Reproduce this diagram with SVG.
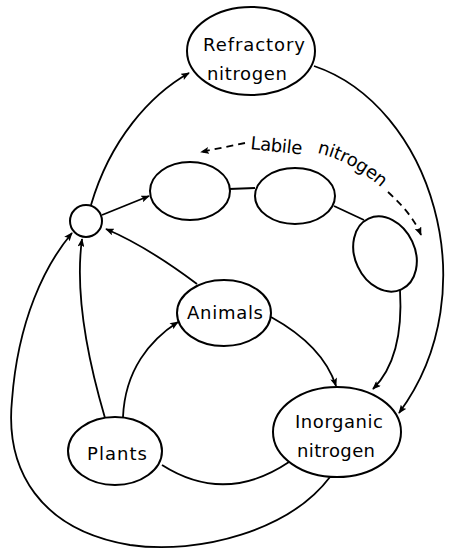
<svg xmlns="http://www.w3.org/2000/svg" width="460" height="551" viewBox="0 0 460 551">
<style>
.n{fill:#fff;stroke:#000;stroke-width:2}
.c{fill:none;stroke:#000;stroke-width:1.8}
.d{fill:none;stroke:#000;stroke-width:1.8;stroke-dasharray:7 5}
text{font-family:"DejaVu Sans","Liberation Sans",sans-serif;font-size:18px;fill:#000}
</style>
<defs>
<marker id="a" viewBox="0 0 10 8" refX="9" refY="4" markerWidth="9" markerHeight="7" orient="auto" markerUnits="userSpaceOnUse">
<path d="M0,0 L10,4 L0,8 L2,4 z" fill="#000"/>
</marker>
<path id="tp" d="M317,153 Q352,161 384,190"/>
</defs>
<rect width="460" height="551" fill="#fff"/>
<g id="connectors">
<path class="c" d="M91,205 C110,140 150,95 189,73" marker-end="url(#a)"/>
<path class="c" d="M314,66 C430,105 490,290 399,413" marker-end="url(#a)"/>
<path class="c" d="M102,215 L149,196" marker-end="url(#a)"/>
<path class="c" d="M229,189 L255,188"/>
<path class="c" d="M334,206 L364,220"/>
<path class="c" d="M400,290 C403,340 392,370 373,389" marker-end="url(#a)"/>
<path class="c" d="M271,317 C300,333 326,355 336,386" marker-end="url(#a)"/>
<path class="c" d="M123,417 C125,370 150,340 178,322" marker-end="url(#a)"/>
<path class="c" d="M105,418 C85,350 75,290 82,239" marker-end="url(#a)"/>
<path class="c" d="M197,284 C165,260 132,240 106,229" marker-end="url(#a)"/>
<path class="c" d="M162,465 Q225,505 289,462"/>
<path class="c" d="M330,477 C290,530 200,555 130,545 C40,530 5,470 12,400 C18,320 45,265 72,233" marker-end="url(#a)"/>
<path class="d" d="M245,143 L201,152" marker-end="url(#a)"/>
<path class="d" d="M388,192 C402,205 414,218 421,235" marker-end="url(#a)"/>
</g>
<g id="refractory">
<ellipse class="n" cx="251" cy="51" rx="64" ry="44"/>
<text x="203" y="51" textLength="102" lengthAdjust="spacing">Refractory</text>
<text x="207" y="80" textLength="80" lengthAdjust="spacing">nitrogen</text>
</g>
<g id="junction"><circle class="n" cx="86" cy="221" r="16"/></g>
<g id="labile1"><ellipse class="n" cx="190" cy="191" rx="40" ry="29"/></g>
<g id="labile2"><ellipse class="n" cx="295" cy="196" rx="40" ry="28"/></g>
<g id="labile3"><ellipse class="n" cx="385" cy="254" rx="39" ry="30" transform="rotate(65 385 254)"/></g>
<g id="labile-label">
<text x="250" y="149" textLength="52" lengthAdjust="spacing" transform="rotate(6 250 149)">Labile</text>
<text textLength="74" lengthAdjust="spacing"><textPath href="#tp">nitrogen</textPath></text>
</g>
<g id="animals">
<ellipse class="n" cx="224" cy="313" rx="47" ry="33"/>
<text x="187" y="319" textLength="76" lengthAdjust="spacing">Animals</text>
</g>
<g id="plants">
<ellipse class="n" cx="115" cy="451" rx="47" ry="34"/>
<text x="87" y="460" textLength="60" lengthAdjust="spacing">Plants</text>
</g>
<g id="inorganic">
<ellipse class="n" cx="337" cy="432" rx="64" ry="45"/>
<text x="295" y="428" textLength="88" lengthAdjust="spacing">Inorganic</text>
<text x="297" y="457" textLength="78" lengthAdjust="spacing">nitrogen</text>
</g>
</svg>
